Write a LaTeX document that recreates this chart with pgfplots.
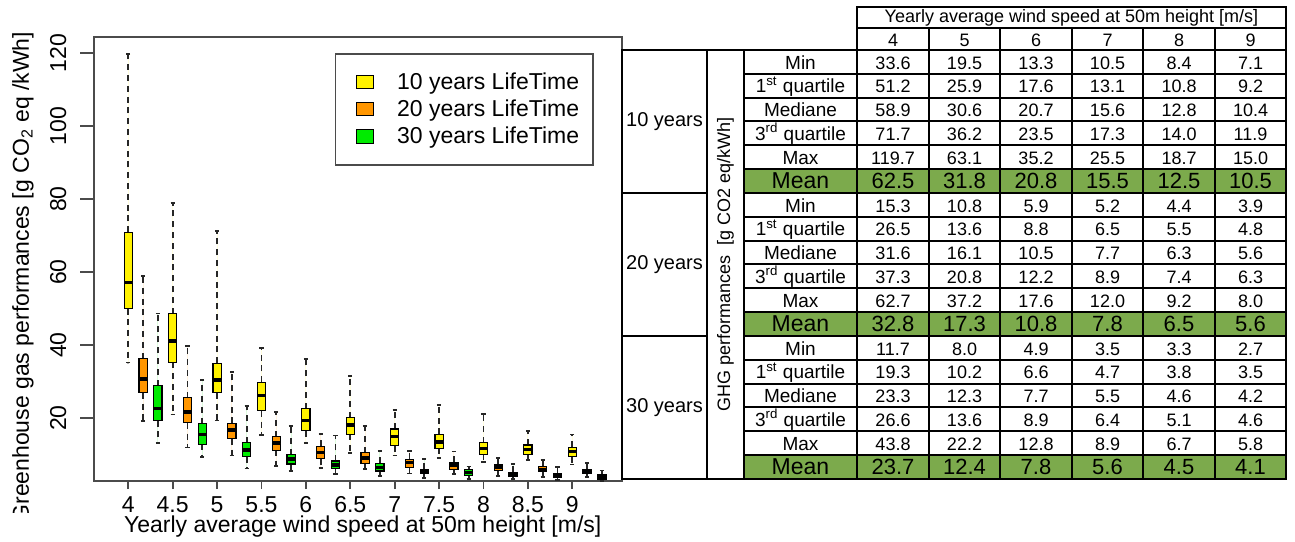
\documentclass[border=0pt]{standalone}
\usepackage{fontspec}
\setmainfont{Liberation Sans}
\usepackage{pgfplots}
\pgfplotsset{compat=1.18}
\usepgfplotslibrary{statistics}

\definecolor{boxorange}{RGB}{255,150,0}
\definecolor{boxgreen}{RGB}{0,235,0}
\definecolor{meangreen}{RGB}{124,170,76}
\definecolor{framegray}{RGB}{75,75,75}

\newcommand{\plotfont}{\fontsize{11.5}{13.5}\selectfont}
\newcommand{\cellfont}{\fontsize{9}{10.8}\selectfont}
\newcommand{\statfont}{\fontsize{9.5}{11}\selectfont}
\newcommand{\meanfont}{\fontsize{11}{13}\selectfont}
\newcommand{\grpfont}{\fontsize{10}{12}\selectfont}

% one box: colour, position, lower whisker, q1, median, q3, upper whisker
\newcommand{\bx}[7]{\addplot[forget plot, fill=#1, draw=black,
  boxplot prepared={draw position=#2, lower whisker=#3, lower quartile=#4,
  median=#5, upper quartile=#6, upper whisker=#7}] coordinates {};}

\begin{document}
\begin{tikzpicture}
\path[use as bounding box] (0,0) rectangle (647.5pt,270.5pt);
\begin{axis}[
  at={(47pt,30pt)}, anchor=south west,
  scale only axis, width=264pt, height=222pt,
  xmin=3.614, xmax=9.560, ymin=2.74, ymax=124.4,
  xtick={4,4.5,5,5.5,6,6.5,7,7.5,8,8.5,9},
  ytick={20,40,60,80,100,120},
  xtick pos=bottom, ytick pos=left, tick align=outside,
  xtick style={/pgfplots/major tick length=4pt},
  ytick style={/pgfplots/major tick length=7pt},
  axis line style={draw=framegray, line width=0.9pt},
  tick style={draw=framegray, line width=0.9pt},
  /pgf/number format/assume math mode=true,
  tick label style={font=\plotfont},
  yticklabel style={rotate=90, anchor=south},
  yticklabel shift=6pt,
  label style={font=\plotfont},
  xlabel={Yearly average wind speed at 50m height [m/s]},
  ylabel={Greenhouse gas performances [g CO\textsubscript{2} eq /kWh]},
  xlabel style={at={(axis description cs:0.509,-0.1036)}, anchor=center},
  ylabel style={at={(axis description cs:-0.1345,0.459)}, anchor=center},
  boxplot/draw direction=y,
  boxplot/box extend=0.094,
  boxplot/whisker extend=0.047,
  boxplot/every whisker/.style={draw=black!85, dash pattern=on 3pt off 2.4pt, line width=0.85pt},
  boxplot/every median/.style={line width=1.8pt},
  boxplot/every box/.style={line width=0.6pt},
  legend style={at={(0.456,0.964)}, anchor=north west, draw=framegray,
    line width=0.8pt, font=\plotfont, inner xsep=5pt, inner ysep=7.5pt,
    row sep=0pt, nodes={inner ysep=1.85pt, inner xsep=2pt}},
  legend cell align=left,
  legend image code/.code={\draw[#1, draw=black, line width=0.5pt]
    (5pt,-3.3pt) rectangle (13.5pt,3.3pt); \path (0pt,0pt) (23pt,0pt);},
]
% 10 years
\bx{yellow}{4}{35.2}{50.0}{57.1}{70.9}{119.7}
\bx{yellow}{4.5}{21.0}{35.3}{41.1}{48.6}{79.0}
\bx{yellow}{5}{19.3}{26.9}{30.4}{35.0}{71.2}
\bx{yellow}{5.5}{15.3}{22.0}{26.2}{29.8}{39.1}
\bx{yellow}{6}{13.1}{16.5}{19.3}{22.6}{36.2}
\bx{yellow}{6.5}{10.5}{15.5}{18.1}{20.1}{31.5}
\bx{yellow}{7}{9.7}{12.4}{14.9}{17.0}{22.2}
\bx{yellow}{7.5}{9.1}{11.7}{13.5}{15.5}{23.6}
\bx{yellow}{8}{8.0}{10.1}{11.7}{13.2}{21.1}
\bx{yellow}{8.5}{8.5}{9.9}{11.4}{12.6}{16.4}
\bx{yellow}{9}{7.3}{9.4}{10.8}{12.0}{15.5}
% 20 years
\bx{boxorange}{4.1667}{19.2}{26.9}{30.7}{36.3}{58.9}
\bx{boxorange}{4.6667}{11.9}{18.7}{21.6}{25.6}{39.7}
\bx{boxorange}{5.1667}{9.7}{14.3}{16.7}{18.5}{32.6}
\bx{boxorange}{5.6667}{6.8}{11.2}{13.1}{14.9}{21.7}
\bx{boxorange}{6.1667}{6.3}{8.8}{10.6}{12.3}{15.6}
\bx{boxorange}{6.6667}{6.0}{7.6}{9.0}{10.5}{17.9}
\bx{boxorange}{7.1667}{4.8}{6.5}{7.8}{8.7}{11.0}
\bx{boxorange}{7.6667}{4.6}{5.9}{7.1}{7.9}{10.8}
\bx{boxorange}{8.1667}{4.1}{5.6}{6.5}{7.3}{9.1}
\bx{boxorange}{8.6667}{3.9}{5.3}{5.9}{6.7}{8.5}
\bx{boxorange}{9.1667}{3.8}{4.7}{5.5}{6.0}{7.6}
% 30 years
\bx{boxgreen}{4.3333}{13.2}{19.3}{22.6}{28.9}{48.6}
\bx{boxgreen}{4.8333}{9.4}{12.8}{15.5}{18.4}{30.4}
\bx{boxgreen}{5.3333}{6.2}{9.4}{11.2}{13.2}{23.3}
\bx{boxgreen}{5.8333}{5.5}{7.4}{8.7}{9.9}{17.9}
\bx{boxgreen}{6.3333}{4.6}{6.2}{7.1}{8.2}{15.2}
\bx{boxgreen}{6.8333}{4.2}{5.5}{6.4}{7.6}{11.0}
\bx{boxgreen}{7.3333}{3.6}{4.7}{5.5}{6.0}{8.8}
\bx{boxgreen}{7.8333}{3.3}{4.3}{5.1}{5.8}{6.7}
\bx{boxgreen}{8.3333}{3.2}{3.9}{4.6}{5.1}{7.4}
\bx{boxgreen}{8.8333}{3.0}{3.8}{4.2}{4.8}{6.5}
\bx{boxgreen}{9.3333}{2.8}{3.3}{3.8}{4.4}{5.6}

\addlegendimage{fill=yellow}
\addlegendentry{10 years LifeTime}
\addlegendimage{fill=boxorange}
\addlegendentry{20 years LifeTime}
\addlegendimage{fill=boxgreen}
\addlegendentry{30 years LifeTime}
\end{axis}

% table, drawn in pixel units of the reference (y downwards)
\begin{scope}[x=0.5pt, y=-0.5pt, shift={(0pt,270.5pt)}]
\def\h{23.8333}
\fill[white] (0,513) rectangle (92,541);
\foreach \k in {5,11,17}
  \fill[meangreen] (744,{50+\k*\h}) rectangle (1286,{50+(\k+1)*\h});
\begin{scope}[line width=1pt, line cap=rect]
\draw (857,7) -- (1286,7) (857,28) -- (1286,28) (622,50) -- (1286,50) (622,479) -- (1286,479);
\foreach \k in {1,...,17}
  \draw (744,{50+\k*\h}) -- (1286,{50+\k*\h});
\foreach \k in {6,12}
  \draw (622,{50+\k*\h}) -- (707,{50+\k*\h});
\draw (622,50) -- (622,479) (707,50) -- (707,479) (744,50) -- (744,479)
      (857,7) -- (857,479) (1286,7) -- (1286,479);
\foreach \i in {1,...,5}
  \draw ({857+\i*71.5},28) -- ({857+\i*71.5},479);
\end{scope}

\node[font=\cellfont] at (1071.5,17.5) {Yearly average wind speed at 50m height [m/s]};
\foreach \s [count=\i from 0] in {4,...,9}
  \node[font=\cellfont, text height=0.72em, text depth=0pt] at ({893+\i*71.5},39) {\s};

\foreach \g/\t in {0/10 years,1/20 years,2/30 years}
  \node[font=\grpfont] at (664.5,{50+(6*\g+3)*\h}) {\t};
\node[font=\cellfont, rotate=90] at (725.5,264.5) {GHG performances\ \ [g CO2 eq/kWh]};

\foreach \g in {0,1,2} {
  \foreach \n/\lab in {0/Min,1/1\textsuperscript{st} quartile,2/Mediane,3/3\textsuperscript{rd} quartile,4/Max}
    \node[font=\statfont, text height=0.72em, text depth=0pt] at (800.5,{50+(6*\g+\n+0.5)*\h}) {\lab};
  \node[font=\fontsize{11.5}{13}\selectfont, text height=0.72em, text depth=0pt] at (800.5,{50+(6*\g+5.5)*\h}) {Mean};
}

\foreach \row [count=\k from 0] in {
  {33.6,19.5,13.3,10.5,8.4,7.1},
  {51.2,25.9,17.6,13.1,10.8,9.2},
  {58.9,30.6,20.7,15.6,12.8,10.4},
  {71.7,36.2,23.5,17.3,14.0,11.9},
  {119.7,63.1,35.2,25.5,18.7,15.0},
  {62.5,31.8,20.8,15.5,12.5,10.5},
  {15.3,10.8,5.9,5.2,4.4,3.9},
  {26.5,13.6,8.8,6.5,5.5,4.8},
  {31.6,16.1,10.5,7.7,6.3,5.6},
  {37.3,20.8,12.2,8.9,7.4,6.3},
  {62.7,37.2,17.6,12.0,9.2,8.0},
  {32.8,17.3,10.8,7.8,6.5,5.6},
  {11.7,8.0,4.9,3.5,3.3,2.7},
  {19.3,10.2,6.6,4.7,3.8,3.5},
  {23.3,12.3,7.7,5.5,4.6,4.2},
  {26.6,13.6,8.9,6.4,5.1,4.6},
  {43.8,22.2,12.8,8.9,6.7,5.8},
  {23.7,12.4,7.8,5.6,4.5,4.1}} {
  \pgfmathtruncatemacro\m{mod(\k,6)}
  \ifnum\m=5 \def\vf{\meanfont}\else\def\vf{\cellfont}\fi
  \foreach \v [count=\i from 0] in \row
    \node[font=\vf, text height=0.72em, text depth=0pt] at ({893+\i*71.5},{50+(\k+0.5)*\h}) {\v};
}
\end{scope}
\end{tikzpicture}
\end{document}
